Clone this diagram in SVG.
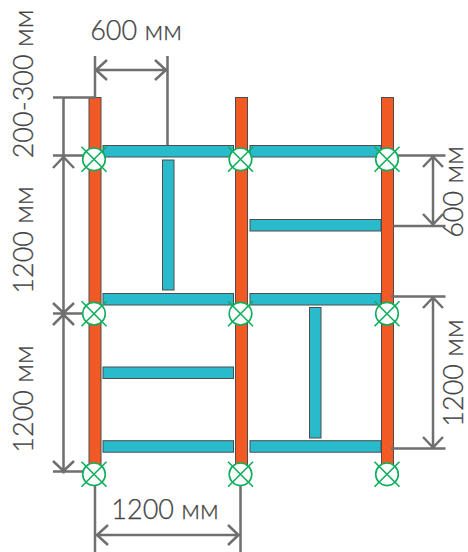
<svg xmlns="http://www.w3.org/2000/svg" width="468" height="552" viewBox="0 0 468 552">
<style>
.post{fill:#f15a24;stroke:#4d4d4d;stroke-width:1}
.beam{fill:#29bbcc;stroke:#4d4d4d;stroke-width:1}
.dim{fill:none;stroke:#6f6f6f;stroke-width:2.500}
.mark{fill:#fff;stroke:#0fae5c;stroke-width:1.600}
.cross{fill:none;stroke:#0fae5c;stroke-width:1.600}
.lbl{font-family:"Lato","Open Sans",sans-serif;font-weight:300;font-size:27px;fill:#444;stroke:#444;stroke-width:.25px}
</style>
<defs>
<g id="x"><circle class="mark" r="11.300"/><path class="cross" d="M-12.500-12.500L12.500 12.500M12.500-12.500L-12.500 12.500"/></g>
</defs>
<g id="posts">
<rect class="post" x="89" y="97.500" width="12" height="376"/>
<rect class="post" x="235.500" y="97.500" width="12" height="376"/>
<rect class="post" x="381.500" y="97.500" width="12" height="376"/>
</g>
<g id="beams">
<rect class="beam" x="103" y="145.500" width="130.500" height="11.500"/>
<rect class="beam" x="250" y="145.500" width="131" height="11.500"/>
<rect class="beam" x="250" y="219.500" width="131" height="11.500"/>
<rect class="beam" x="103" y="293.500" width="130.500" height="11.500"/>
<rect class="beam" x="250" y="293.500" width="131" height="11.500"/>
<rect class="beam" x="103" y="367" width="130.500" height="11.500"/>
<rect class="beam" x="103" y="440.700" width="130.500" height="11.500"/>
<rect class="beam" x="250" y="440.700" width="131" height="11.500"/>
<rect class="beam" x="162.500" y="160" width="11.500" height="130"/>
<rect class="beam" x="309.500" y="307.500" width="11.500" height="130.500"/>
</g>
<g id="connectors">
<path class="dim" d="M95 56V98M167.500 56V145M95 70H166M107 60L96 70L107 80M155 60L166 70L155 80"/>
<path class="dim" d="M53 97.500H96M53 155.500H83M63.500 97.500V155M63.500 473.500V157M53 313.500H83M53 471.500H83M53 168L63.500 157L74 168M53 303L63.500 313L74 303M53 325L63.500 314.500L74 325M53 461L63.500 471L74 461"/>
<path class="dim" d="M95 484V552M240.500 484V552M97 535H238M108 525L97 535L108 545M228 525L238.500 535L228 545"/>
<path class="dim" d="M397 155.500H445.500M393.500 226H445.500M433 156.500V224M423 167L433 156.500L443 167M423 214L433 224.500L443 214"/>
<path class="dim" d="M391 296.500H445.500M391 448.500H445.500M433 297.500V447M423 308L433 297.500L443 308M423 437L433 447.500L443 437"/>
</g>
<g id="nodes">
<use id="n1" href="#x" x="94" y="159.300"/>
<use id="n2" href="#x" x="240.500" y="159.300"/>
<use id="n3" href="#x" x="387" y="159.300"/>
<use id="n4" href="#x" x="94" y="313.700"/>
<use id="n5" href="#x" x="240.500" y="313.700"/>
<use id="n6" href="#x" x="387" y="313.700"/>
<use id="n7" href="#x" x="94" y="474.300"/>
<use id="n8" href="#x" x="240.500" y="474.300"/>
<use id="n9" href="#x" x="387" y="474.300"/>
</g>
<g id="labels">
<text class="lbl" x="136" y="40" text-anchor="middle">600 мм</text>
<text class="lbl" x="165" y="519" text-anchor="middle">1200 мм</text>
<text class="lbl" transform="translate(33 84) rotate(-90)" text-anchor="middle">200-300 мм</text>
<text class="lbl" transform="translate(33 240) rotate(-90)" text-anchor="middle">1200 мм</text>
<text class="lbl" transform="translate(33 399) rotate(-90)" text-anchor="middle">1200 мм</text>
<text class="lbl" transform="translate(463 192) rotate(-90)" text-anchor="middle">600 мм</text>
<text class="lbl" transform="translate(463 373) rotate(-90)" text-anchor="middle">1200 мм</text>
</g>
</svg>
